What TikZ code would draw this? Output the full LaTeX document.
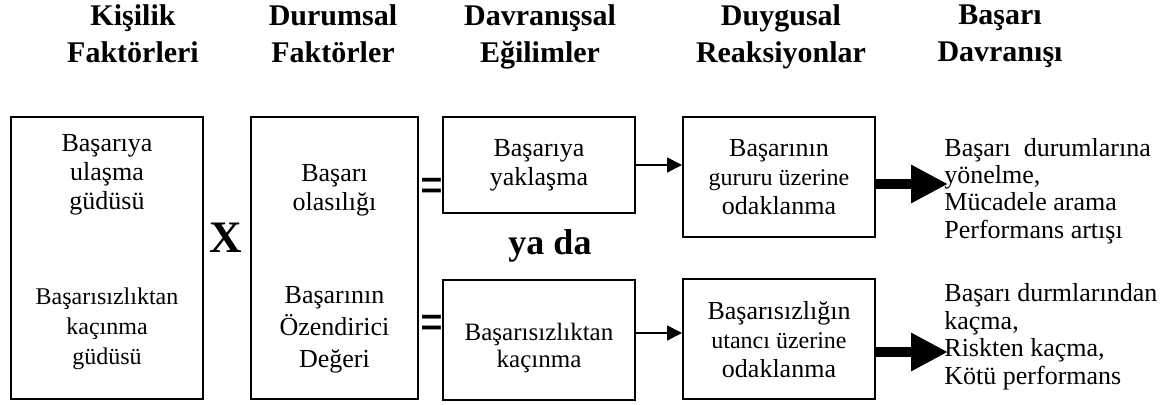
\documentclass[tikz,border=0pt]{standalone}
\usepackage{fontspec}
\setmainfont{Liberation Serif}
\usetikzlibrary{arrows.meta,positioning}

\begin{document}
\begin{tikzpicture}[x=0.5pt,y=-0.5pt]
                        \tikzset{Box/.style={%
                                shape=rectangle,%
                                draw=black,%
                                line width=1pt,%
                                minimum width=96pt,%
                                minimum height=60pt,%
                                inner sep=2pt,%
                                align=center,%
                                font=\fontsize{13}{14.5}\selectfont,%
                            }}
                        \tikzset{Head/.style={%
                                anchor=north,%
                                inner sep=0pt,%
                                align=center,%
                                font=\fontsize{15}{18.5}\selectfont\bfseries,%
                            }}
                        \tikzset{Txt/.style={inner sep=0pt, align=center, font=\fontsize{13}{14.5}\selectfont}}
                        \tikzset{Out/.style={anchor=north west, inner sep=0pt, align=left, font=\fontsize{13}{13.6}\selectfont}}
                        \tikzset{Sign/.style={inner sep=0pt, font=\fontsize{18}{18}\selectfont\bfseries}}
                        \tikzset{Eq/.style={inner sep=0pt, xscale=0.75, font=\fontsize{27}{27}\selectfont\bfseries}}

                            \useasboundingbox (0,0) rectangle (1173,405);

                            \node[Head] (h1) at (133,4) {Kişilik\\Faktörleri};
                            \node[Head] (h2) at (333,4) {Durumsal\\Faktörler};
                            \node[Head] (h3) at (540,4) {Davranışsal\\Eğilimler};
                            \node[Head] (h4) at (781,4) {Duygusal\\Reaksiyonlar};
                            \node[Head] (h5) at (1000,4) {Başarı\\Davranışı};

                            \node[Box, minimum height=141pt] (kisilik) at (107,258) {};
                            \node[Box, minimum width=83.5pt, minimum height=141pt] (durum) at (334.5,258) {};
                            \node[Box, minimum height=48pt] (yaklas) at (539,165) {Başarıya\\yaklaşma};
                            \node[Box] (kacin) at (539,340) {};
                            \node[Box] (gurur) at (779,177) {Başarının\\{\fontsize{12}{14.5}\selectfont gururu üzerine}\\odaklanma};
                            \node[Box] (utanc) at (779,339.5) {Başarısızlığın\\{\fontsize{12}{14.5}\selectfont utancı üzerine}\\odaklanma};

                            \node[Txt] (k1) at (107,175) {Başarıya\\ulaşma\\güdüsü};
                            \node[Txt, font=\fontsize{12}{15}\selectfont] (k2) at (107,329) {Başarısızlıktan\\kaçınma\\güdüsü};
                            \node[Txt] (d1) at (334.5,190.5) {Başarı\\olasılığı};
                            \node[Txt, font=\fontsize{13}{16}\selectfont] (d2) at (334.5,329.5) {Başarının\\Özendirici\\Değeri};
                            \node[Txt, font=\fontsize{12.5}{13.5}\selectfont] (c1) at (539,348) {Başarısızlıktan\\kaçınma};

                            \node[Sign, font=\fontsize{22.5}{22.5}\selectfont\bfseries] (x) at (225.5,238) {X};
                            \node[Eq, anchor=east] (e1) at (444,191) {=};
                            \node[Eq, anchor=east] (e2) at (444,328) {=};
                            \node[Sign, anchor=base] (yada) at (550,255) {ya da};

                            \node[Out] (yonel) at (944,138) {Başarı\ \ durumlarına\\yönelme,\\Mücadele arama\\Performans artışı};
                            \node[Out, font=\fontsize{13}{13.8}\selectfont] (kacma) at (944,283) {Başarı durmlarından\\kaçma,\\Riskten kaçma,\\Kötü performans};

                            \path (yaklas.east) edge[-{Triangle[length=7.5pt,width=7.5pt]}, line width=0.8pt] (yaklas.east -| gurur.west);
                            \path ([yshift=3.5pt]kacin.east) edge[-{Triangle[length=7.5pt,width=7.5pt]}, line width=0.8pt] ([yshift=3.5pt]kacin.east -| utanc.west);
                            \path ([yshift=-3.5pt]gurur.east) edge[-{Triangle[length=18.5pt,width=18pt]}, line width=5pt] ([yshift=-3.5pt,xshift=2pt]gurur.east -| yonel.west);
                            \path ([yshift=-6.25pt]utanc.east) edge[-{Triangle[length=18.5pt,width=18pt]}, line width=5pt] ([yshift=-6.25pt,xshift=2pt]utanc.east -| kacma.west);
\end{tikzpicture}
\end{document}
